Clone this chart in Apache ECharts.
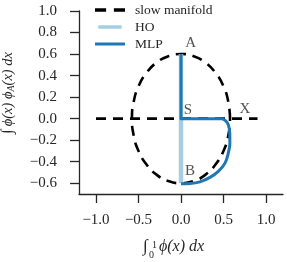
<!DOCTYPE html>
<html><head><meta charset="utf-8">
<script src="https://cdn.jsdelivr.net/npm/echarts@6/dist/echarts.min.js"></script>
<style>html,body{margin:0;padding:0;background:#fff}#c{width:287px;height:262px}</style>
</head><body><div id="c"></div>
<script>
// ---- data ----
const xTicks = [-1.0, -0.5, 0.0, 0.5, 1.0];
const yTicks = [-0.6, -0.4, -0.2, 0.0, 0.2, 0.4, 0.6, 0.8, 1.0];
const legendNames = ['slow manifold', 'HO', 'MLP'];
const manifoldEllipse = [
  [0.577, 0], [0.557, 0.155], [0.5, 0.3], [0.408, 0.424], [0.289, 0.52], [0.149, 0.58],
  [0, 0.6], [-0.149, 0.58], [-0.289, 0.52], [-0.408, 0.424], [-0.5, 0.3], [-0.557, 0.155],
  [-0.577, 0], [-0.557, -0.155], [-0.5, -0.3], [-0.408, -0.424], [-0.289, -0.52], [-0.149, -0.58],
  [0, -0.6], [0.149, -0.58], [0.289, -0.52], [0.408, -0.424], [0.5, -0.3], [0.557, -0.155], [0.577, 0]
];
const manifoldLine = [[-1.0, 0], [0.9, 0]];
const hoPath = [[0, 0.6], [0, -0.6]];
const mlpStraight = [[0, 0.6], [0, 0], [0.47, 0]];
const mlpCurve = [
  [0.47, 0], [0.526, -0.02], [0.558, -0.06], [0.574, -0.137],
  [0.575, -0.23], [0.556, -0.32], [0.518, -0.413], [0.439, -0.49], [0.341, -0.546],
  [0.224, -0.587], [0.106, -0.602], [0, -0.604]
];
const pointLabels = [[0.114, 0.698, 'A'], [0.082, 0.079, 'S'], [0.753, 0.088, 'X'], [0.106, -0.488, 'B']];

// ---- chart ----
const ink = '#262626';
const serif = 'Liberation Serif';
const mlpColor = '#1f78b4', hoColor = '#a6cee3';
const fmt = v => (v < 0 ? '\u2212' : '') + Math.abs(v).toFixed(1);
const chart = echarts.init(document.getElementById('c'), null, {renderer: 'canvas'});
const dash = {type: [10, 7], width: 2.6, color: '#000'};
chart.setOption({
  animation: false,
  backgroundColor: '#fff',
  grid: {left: 79, top: 11, width: 204, height: 183},
  xAxis: {
    type: 'value', min: -1.2, max: 1.2,
    axisLine: {show: true, onZero: false, lineStyle: {color: ink, width: 1.3}},
    axisTick: {show: true, length: 9, customValues: xTicks, lineStyle: {color: ink, width: 1.3}},
    axisLabel: {customValues: xTicks, formatter: fmt, color: ink, fontFamily: serif, fontSize: 15, margin: 19},
    splitLine: {show: false}
  },
  yAxis: {
    type: 'value', min: -0.7, max: 1.0,
    axisLine: {show: true, onZero: false, lineStyle: {color: ink, width: 1.3}},
    axisTick: {show: true, length: 9, customValues: yTicks, lineStyle: {color: ink, width: 1.3}},
    axisLabel: {customValues: yTicks, formatter: fmt, color: ink, fontFamily: serif, fontSize: 15, margin: 22},
    splitLine: {show: false}
  },
  legend: {
    data: [
      {name: legendNames[0], icon: 'path://M0,0h10v3h-10zM17,0h10v3h-10z', itemStyle: {color: '#000'}},
      {name: legendNames[1], icon: 'path://M0,0h30v4.5h-30z', itemStyle: {color: hoColor}},
      {name: legendNames[2], icon: 'path://M0,0h30v3h-30z', itemStyle: {color: mlpColor}}
    ],
    orient: 'vertical', left: 95, top: 3, padding: 0,
    itemWidth: 30, itemHeight: 3.5, itemGap: 3,
    textStyle: {color: ink, fontFamily: serif, fontSize: 13.5, padding: [0, 0, 0, 5], lineHeight: 14}
  },
  graphic: [
    {type: 'group', left: 143, top: 238, children: [
      {type: 'text', x: 0, y: 0, style: {text: '\u222B', font: 'italic 17px "Liberation Serif"', fill: ink}},
      {type: 'text', x: 9, y: 2, style: {text: '1', font: '10px "Liberation Serif"', fill: ink}},
      {type: 'text', x: 6, y: 12, style: {text: '0', font: '10px "Liberation Serif"', fill: ink}},
      {type: 'text', x: 16, y: 1, style: {text: '\u03D5(x) dx', font: 'italic 16px "Liberation Serif"', fill: ink}}
    ]},
    {type: 'text', x: 8, y: 93, rotation: Math.PI / 2,
      style: {
        text: '{i|\u222B} {m|\u03D5(x) \u03D5}{s|A}{m|(x) dx}',
        align: 'center', verticalAlign: 'middle', fill: ink,
        rich: {
          i: {fontFamily: serif, fontSize: 16, fontStyle: 'italic', fill: ink},
          m: {fontFamily: serif, fontSize: 14.5, fontStyle: 'italic', fill: ink},
          s: {fontFamily: serif, fontSize: 10, fontStyle: 'italic', fill: ink, verticalAlign: 'bottom', padding: [6, 0, 0, 0]}
        }
      }}
  ],
  series: [
    {name: 'slow manifold', type: 'line', data: manifoldLine, symbol: 'none', lineStyle: dash, itemStyle: {color: '#000'}, z: 2},
    {name: 'slow manifold', type: 'line', data: manifoldEllipse, symbol: 'none', smooth: true, lineStyle: dash, itemStyle: {color: '#000'}, z: 2},
    {name: 'HO', type: 'line', data: hoPath, symbol: 'none', lineStyle: {color: hoColor, width: 4.5}, itemStyle: {color: hoColor}, z: 3},
    {name: 'MLP', type: 'line', data: mlpStraight, symbol: 'none', lineStyle: {color: mlpColor, width: 3, join: 'round'}, itemStyle: {color: mlpColor}, z: 4},
    {name: 'MLP', type: 'line', data: mlpCurve, symbol: 'none', smooth: 0.4, lineStyle: {color: mlpColor, width: 3, join: 'round'}, itemStyle: {color: mlpColor}, z: 4},
    {name: 'labels', type: 'scatter', data: pointLabels, symbolSize: 1, itemStyle: {color: 'rgba(0,0,0,0)'},
      label: {show: true, position: 'inside', formatter: p => p.data[2], color: ink, fontFamily: serif, fontSize: 15}, z: 5}
  ]
});
</script></body></html>
